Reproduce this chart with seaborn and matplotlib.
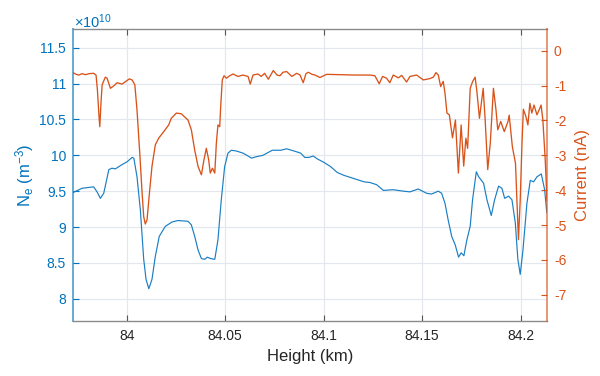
import numpy as np
import pandas as pd
import matplotlib
matplotlib.use("Agg")
import matplotlib.pyplot as plt
import seaborn as sns

# ---------------- data ----------------
ne_height = [83.9727, 83.9773, 83.9832, 83.9849, 83.9866, 83.9883, 83.9909, 83.9925,
             83.9942, 83.9976, 84.0002, 84.0027, 84.0036, 84.0052, 84.0069, 84.0086,
             84.0098, 84.0112, 84.0128, 84.0145, 84.0165, 84.0196, 84.0230, 84.0260,
             84.0311, 84.0328, 84.0345, 84.0362, 84.0379, 84.0396, 84.0409, 84.0426,
             84.0447, 84.0463, 84.0480, 84.0497, 84.0514, 84.0531, 84.0556, 84.0590,
             84.0616, 84.0633, 84.0658, 84.0692, 84.0739, 84.0782, 84.0812, 84.0849,
             84.0883, 84.0904, 84.0925, 84.0947, 84.0967, 84.1002, 84.1036, 84.1069,
             84.1103, 84.1137, 84.1171, 84.1205, 84.1235, 84.1269, 84.1303, 84.1353,
             84.1404, 84.1438, 84.1480, 84.1523, 84.1548, 84.1582, 84.1599, 84.1616,
             84.1632, 84.1650, 84.1668, 84.1685, 84.1698, 84.1712, 84.1727, 84.1744,
             84.1756, 84.1775, 84.1787, 84.1812, 84.1829, 84.1851, 84.1868, 84.1888,
             84.1905, 84.1919, 84.1939, 84.1956, 84.1973, 84.1986, 84.1998, 84.2012,
             84.2032, 84.2049, 84.2066, 84.2083, 84.2105, 84.2122, 84.2133]
ne_value = [9.48, 9.54, 9.56, 9.49, 9.40, 9.47, 9.80, 9.82,
            9.81, 9.87, 9.91, 9.97, 9.96, 9.70, 9.24, 8.55,
            8.27, 8.14, 8.27, 8.59, 8.87, 9.01, 9.07, 9.09,
            9.08, 9.03, 8.87, 8.68, 8.56, 8.55, 8.58, 8.56,
            8.55, 8.82, 9.38, 9.84, 10.03, 10.07, 10.06, 10.03,
            9.99, 9.96, 9.98, 10.00, 10.07, 10.07, 10.09, 10.06,
            10.03, 9.97, 9.97, 9.99, 9.95, 9.90, 9.84, 9.76,
            9.72, 9.69, 9.66, 9.63, 9.62, 9.59, 9.51, 9.52,
            9.50, 9.49, 9.53, 9.47, 9.46, 9.50, 9.47, 9.33,
            9.10, 8.87, 8.75, 8.58, 8.64, 8.60, 8.82, 9.01,
            9.38, 9.77, 9.70, 9.61, 9.38, 9.16, 9.38, 9.57,
            9.54, 9.40, 9.43, 9.38, 9.06, 8.55, 8.34, 8.68,
            9.33, 9.65, 9.63, 9.70, 9.74, 9.52, 9.20]

cur_height = [83.9727, 83.9743, 83.9757, 83.9773, 83.9790, 83.9809, 83.9832, 83.9844,
              83.9851, 83.9858, 83.9863, 83.9870, 83.9875, 83.9891, 83.9900, 83.9917,
              83.9934, 83.9951, 83.9976, 83.9993, 84.0013, 84.0027, 84.0041, 84.0052,
              84.0066, 84.0078, 84.0086, 84.0094, 84.0103, 84.0115, 84.0128, 84.0145,
              84.0162, 84.0188, 84.0213, 84.0226, 84.0252, 84.0277, 84.0311, 84.0328,
              84.0345, 84.0362, 84.0379, 84.0392, 84.0404, 84.0416, 84.0424, 84.0435,
              84.0447, 84.0455, 84.0463, 84.0472, 84.0477, 84.0485, 84.0494, 84.0506,
              84.0523, 84.0540, 84.0565, 84.0590, 84.0616, 84.0627, 84.0641, 84.0666,
              84.0683, 84.0700, 84.0719, 84.0744, 84.0763, 84.0778, 84.0793, 84.0812,
              84.0838, 84.0863, 84.0880, 84.0896, 84.0910, 84.0922, 84.0941, 84.0956,
              84.0981, 84.1015, 84.1083, 84.1159, 84.1235, 84.1260, 84.1282, 84.1299,
              84.1319, 84.1336, 84.1353, 84.1379, 84.1396, 84.1421, 84.1438, 84.1472,
              84.1506, 84.1540, 84.1557, 84.1570, 84.1582, 84.1594, 84.1607, 84.1616,
              84.1626, 84.1638, 84.1654, 84.1669, 84.1684, 84.1698, 84.1711, 84.1722,
              84.1731, 84.1744, 84.1756, 84.1769, 84.1778, 84.1791, 84.1810, 84.1820,
              84.1833, 84.1846, 84.1862, 84.1875, 84.1884, 84.1899, 84.1917, 84.1936,
              84.1942, 84.1958, 84.1974, 84.1989, 84.1998, 84.2007, 84.2014, 84.2027,
              84.2037, 84.2047, 84.2057, 84.2068, 84.2083, 84.2094, 84.2104, 84.2113,
              84.2125, 84.2134]
cur_value = [-0.63, -0.68, -0.70, -0.66, -0.69, -0.66, -0.65, -0.70,
             -1.13, -1.79, -2.18, -1.41, -0.98, -0.76, -0.79, -1.08,
             -1.01, -0.92, -0.96, -0.89, -0.81, -0.84, -0.98, -1.70,
             -2.94, -4.09, -4.76, -4.97, -4.85, -4.09, -3.32, -2.70,
             -2.51, -2.32, -2.13, -1.94, -1.79, -1.81, -1.99, -2.27,
             -2.85, -3.32, -3.56, -3.13, -2.80, -3.13, -3.51, -3.37,
             -3.51, -2.65, -2.13, -2.18, -1.60, -0.84, -0.72, -0.79,
             -0.72, -0.67, -0.74, -0.70, -0.74, -0.96, -0.70, -0.67,
             -0.74, -0.65, -0.82, -0.57, -0.70, -0.72, -0.62, -0.60,
             -0.74, -0.65, -0.70, -0.92, -0.66, -0.62, -0.68, -0.70,
             -0.77, -0.68, -0.69, -0.70, -0.70, -0.72, -0.95, -0.74,
             -0.79, -0.92, -0.70, -0.78, -0.71, -0.90, -0.74, -0.70,
             -0.84, -0.80, -0.76, -0.63, -0.70, -1.03, -0.88, -1.22,
             -1.79, -1.84, -2.50, -1.99, -3.51, -2.13, -3.31, -2.51,
             -2.80, -1.08, -0.89, -0.76, -1.17, -1.94, -1.08, -1.99,
             -3.41, -2.65, -1.08, -1.70, -2.27, -2.03, -2.32, -2.03,
             -1.85, -2.75, -3.23, -5.42, -4.28, -2.65, -1.68, -1.89,
             -2.13, -1.51, -1.79, -1.56, -1.84, -1.70, -1.56, -1.99,
             -3.13, -4.30]

x_ticks = [84.0, 84.05, 84.1, 84.15, 84.2]
x_ticklabels = ["84", "84.05", "84.1", "84.15", "84.2"]
ne_ticks = [8, 8.5, 9, 9.5, 10, 10.5, 11, 11.5]
ne_ticklabels = ["8", "8.5", "9", "9.5", "10", "10.5", "11", "11.5"]
cur_ticks = [-7, -6, -5, -4, -3, -2, -1, 0]
cur_ticklabels = ["-7", "-6", "-5", "-4", "-3", "-2", "-1", "0"]

# ---------------- style ----------------
sns.set_style("white")
plt.rcParams["font.family"] = ["Liberation Sans", "DejaVu Sans"]
plt.rcParams["mathtext.fontset"] = "custom"
plt.rcParams["mathtext.rm"] = "Liberation Sans"
plt.rcParams["mathtext.it"] = "Liberation Sans:italic"
plt.rcParams["mathtext.default"] = "regular"
plt.rcParams["axes.unicode_minus"] = False

BLUE = "#0072BD"
ORANGE = "#D95319"
DARK = "#262626"
GRID = "#e4e8ee"

df_ne = pd.DataFrame({"height": ne_height, "ne": ne_value})
df_cur = pd.DataFrame({"height": cur_height, "cur": cur_value})

fig = plt.figure(figsize=(6.0, 3.76), dpi=100)
ax = fig.add_axes([73 / 600, 55 / 376, 474 / 600, 292 / 376])
ax2 = ax.twinx()

sns.lineplot(data=df_ne, x="height", y="ne", ax=ax, color="#1a7fc4", lw=0.85,
             estimator=None, sort=False)
sns.lineplot(data=df_cur, x="height", y="cur", ax=ax2, color=ORANGE, lw=0.95,
             estimator=None, sort=False)

ax.set_xlim(83.9727, 84.2134)
ax.set_ylim(7.69, 11.76)
ax2.set_ylim(-7.75, 0.62)

ax.set_xticks(x_ticks)
ax.set_xticklabels(x_ticklabels)
ax.set_yticks(ne_ticks)
ax.set_yticklabels(ne_ticklabels)
ax2.set_yticks(cur_ticks)
ax2.set_yticklabels(cur_ticklabels)

ax.set_xlabel("")
ax.set_ylabel("")
ax2.set_ylabel("")

ax.grid(True, color=GRID, lw=0.9)
ax2.grid(False)
ax.set_axisbelow(True)

ax.tick_params(axis="x", direction="in", top=True, bottom=True, length=4,
               color="#555555", labelcolor=DARK, labelsize=10, pad=6)
ax.tick_params(axis="y", direction="in", left=True, right=False, length=4,
               color=BLUE, labelcolor=BLUE, labelsize=10, pad=5)
ax2.tick_params(axis="y", direction="in", right=True, left=False, length=4,
                color=ORANGE, labelcolor=ORANGE, labelsize=10, pad=5)
ax2.tick_params(axis="x", top=False, bottom=False)

for s in ["top", "bottom"]:
    ax.spines[s].set_color("#8a8a8a")
    ax.spines[s].set_linewidth(1.0)
    ax2.spines[s].set_visible(False)
ax.spines["left"].set_color(BLUE)
ax.spines["left"].set_alpha(0.6)
ax.spines["left"].set_linewidth(1.4)
ax.spines["right"].set_visible(False)
ax2.spines["left"].set_visible(False)
ax2.spines["right"].set_color(ORANGE)
ax2.spines["right"].set_alpha(0.6)
ax2.spines["right"].set_linewidth(1.4)

fig.text(310 / 600, 1 - 356 / 376, "Height (km)", ha="center", va="center",
         fontsize=12, color=DARK)
fig.text(25 / 600, 1 - 175 / 376, r"N$_e$ (m$^{-3}$)", ha="center", va="center",
         rotation=90, fontsize=12, color=BLUE)
fig.text(582 / 600, 1 - 175 / 376, "Current (nA)", ha="center", va="center",
         rotation=90, fontsize=12, color=ORANGE)
fig.text(74 / 600, 1 - 22 / 376, r"$\times$10$^{10}$", ha="left", va="center",
         fontsize=10.5, color=BLUE)

fig.savefig("out.png", dpi=100, facecolor="white")
